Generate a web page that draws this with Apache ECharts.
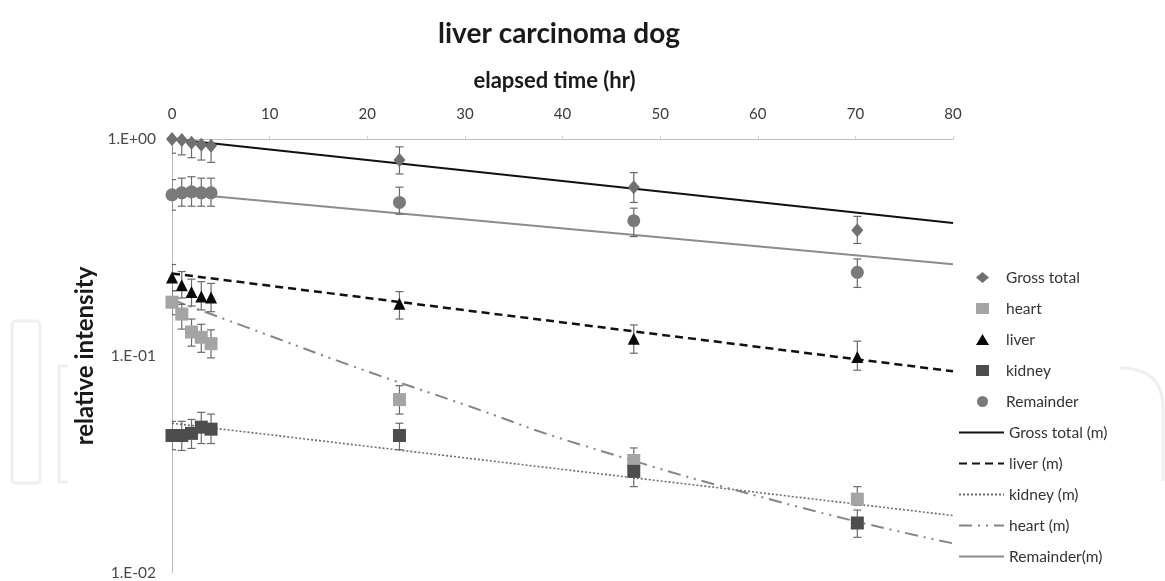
<!DOCTYPE html>
<html>
<head>
<meta charset="utf-8">
<script src="https://cdn.jsdelivr.net/npm/echarts@6/dist/echarts.min.js"></script>
<style>
  html, body { margin: 0; padding: 0; background: #fff; }
  #chart { width: 1165px; height: 581px; }
</style>
</head>
<body>
<div id="chart"></div>
<script>
// ---- data ----
const timeHours = [0, 1, 2, 3, 4, 23.3, 47.3, 70.2];

const grossTotal     = [1.00, 0.99, 0.96, 0.94, 0.93, 0.80, 0.60, 0.38];
const grossTotalLow  = [0.86, 0.845, 0.82, 0.80, 0.78, 0.69, 0.51, 0.33];
const grossTotalHigh = [1.14, 1.15, 1.12, 1.10, 1.10, 0.92, 0.70, 0.44];

const heart     = [0.177, 0.156, 0.129, 0.122, 0.114, 0.063, 0.033, 0.0219];
const heartLow  = [0.155, 0.133, 0.111, 0.104, 0.098, 0.054, 0.0285, 0.0205];
const heartHigh = [0.200, 0.173, 0.148, 0.140, 0.132, 0.073, 0.0377, 0.025];

const liver     = [0.230, 0.212, 0.197, 0.188, 0.186, 0.174, 0.120, 0.099];
const liverLow  = [0.200, 0.185, 0.170, 0.163, 0.160, 0.148, 0.103, 0.086];
const liverHigh = [0.264, 0.245, 0.226, 0.220, 0.216, 0.198, 0.139, 0.117];

const kidney     = [0.043, 0.043, 0.044, 0.047, 0.046, 0.043, 0.0294, 0.0170];
const kidneyLow  = [0.037, 0.0367, 0.0375, 0.0395, 0.0395, 0.037, 0.025, 0.0146];
const kidneyHigh = [0.050, 0.050, 0.051, 0.055, 0.054, 0.049, 0.0335, 0.0195];

const remainder     = [0.553, 0.565, 0.571, 0.565, 0.565, 0.51, 0.42, 0.243];
const remainderLow  = [0.47, 0.49, 0.49, 0.49, 0.49, 0.45, 0.355, 0.207];
const remainderHigh = [0.65, 0.66, 0.67, 0.66, 0.66, 0.60, 0.48, 0.28];

// model (fitted) curves
const modelTime      = [0, 80];
const grossModel     = [1.0, 0.41];
const liverModel     = [0.24, 0.085];
const kidneyModel    = [0.049, 0.0184];
const remainderModel = [0.567, 0.265];
const heartModelTime = [0, 10, 19.3, 30, 41.8, 64.3, 80];
const heartModel     = [0.182, 0.124, 0.0872, 0.0596, 0.0391, 0.0201, 0.0137];

const xTicks = [0, 10, 20, 30, 40, 50, 60, 70, 80];
const yTickLabels = { '1': '1.E+00', '0.1': '1.E-01', '0.01': '1.E-02' };

const markerNames = ['Gross total', 'heart', 'liver', 'kidney', 'Remainder'];
const modelNames = ['Gross total (m)', 'liver (m)', 'kidney (m)', 'heart (m)', 'Remainder(m)'];

// ---- build ----
const FONT = 'Lato, "Open Sans", sans-serif';
const pairs = (xs, ys) => xs.map((x, i) => [x, ys[i]]);
const triples = (xs, lo, hi) => xs.map((x, i) => [x, lo[i], hi[i]]);

function errorSeries(lo, hi) {
  return {
    type: 'custom',
    silent: true,
    clip: true,
    z: 3,
    data: triples(timeHours, lo, hi),
    encode: { x: 0, y: [1, 2] },
    renderItem: function (params, api) {
      const x = api.value(0);
      const top = api.coord([x, api.value(2)]);
      const bot = api.coord([x, api.value(1)]);
      const w = 4;
      const st = { stroke: '#6a6a6a', lineWidth: 1.2 };
      return {
        type: 'group',
        children: [
          { type: 'line', shape: { x1: top[0], y1: top[1], x2: bot[0], y2: bot[1] }, style: st },
          { type: 'line', shape: { x1: top[0] - w, y1: top[1], x2: top[0] + w, y2: top[1] }, style: st },
          { type: 'line', shape: { x1: bot[0] - w, y1: bot[1], x2: bot[0] + w, y2: bot[1] }, style: st }
        ]
      };
    }
  };
}

function markerSeries(name, values, symbol, size, color) {
  return {
    name: name, type: 'scatter', symbol: symbol, symbolSize: size, z: 4,
    itemStyle: { color: color, opacity: 1 },
    data: pairs(timeHours, values)
  };
}

function modelSeries(name, xs, ys, color, width, type, smooth) {
  return {
    name: name, type: 'line', showSymbol: false, symbol: 'none', z: 2,
    smooth: smooth || false,
    lineStyle: { color: color, width: width, type: type, cap: 'butt' },
    itemStyle: { color: color },
    data: pairs(xs, ys)
  };
}

const chart = echarts.init(document.getElementById('chart'), null, { renderer: 'canvas' });

const wm = { stroke: '#efefef', lineWidth: 3, fill: null };

const option = {
  animation: false,
  backgroundColor: '#ffffff',
  title: {
    text: 'liver carcinoma dog',
    left: 554, top: 15, textAlign: 'center',
    textStyle: { fontFamily: FONT, fontSize: 28, fontWeight: 'bold', color: '#1a1a1a' }
  },
  graphic: [
    { type: 'rect', z: -10, silent: true, shape: { x: 12, y: 321, width: 28, height: 162, r: 4 }, style: wm },
    { type: 'polyline', z: -10, silent: true, shape: { points: [[68, 366], [59, 366], [59, 482], [68, 482]] }, style: wm },
    { type: 'bezierCurve', z: -10, silent: true,
      shape: { x1: 1120, y1: 368, x2: 1163, y2: 408, cpx1: 1163, cpy1: 368 }, style: wm },
    { type: 'line', z: -10, silent: true, shape: { x1: 1163, y1: 408, x2: 1163, y2: 481 }, style: wm }
  ],
  grid: { left: 172, right: 212, top: 139, bottom: 6, containLabel: false },
  xAxis: {
    type: 'value', position: 'top', min: 0, max: 80, interval: 10,
    name: 'elapsed time (hr)', nameLocation: 'middle', nameGap: 47,
    nameTextStyle: { fontFamily: FONT, fontSize: 22, fontWeight: 'bold', color: '#1a1a1a', padding: [0, 16, 0, 0] },
    axisLine: { show: true, lineStyle: { color: '#bdbdbd', width: 1 } },
    axisTick: { show: true, length: 3, lineStyle: { color: '#d0d0d0' } },
    splitLine: { show: false },
    axisLabel: { fontFamily: FONT, fontSize: 15, color: '#3a3a3a', margin: 17,
      formatter: v => xTicks.indexOf(v) >= 0 ? String(v) : '' }
  },
  yAxis: {
    type: 'log', logBase: 10, min: 0.01, max: 1,
    name: 'relative intensity', nameLocation: 'middle', nameGap: 75, nameRotate: 90,
    nameMoveOverlap: false,
    nameTextStyle: { fontFamily: FONT, fontSize: 24, fontWeight: 'bold', color: '#1a1a1a' },
    axisLine: { show: true, lineStyle: { color: '#bdbdbd', width: 1 } },
    axisTick: { show: false },
    splitLine: { show: false },
    axisLabel: { fontFamily: FONT, fontSize: 15.5, color: '#4a4a4a', margin: 16,
      formatter: v => yTickLabels[String(+v.toPrecision(3))] || '' }
  },
  legend: [
    {
      orient: 'vertical', left: 971, top: 264,
      itemWidth: 13, itemHeight: 11, itemGap: 14,
      textStyle: { fontFamily: FONT, fontSize: 15.5, color: '#333', lineHeight: 17, padding: [0, 0, 0, 12] },
      data: markerNames,
      selectedMode: false
    },
    {
      orient: 'vertical', left: 953, top: 419,
      itemWidth: 45, itemHeight: 11, itemGap: 14,
      itemStyle: { color: 'rgba(0,0,0,0)', borderColor: 'rgba(0,0,0,0)', borderWidth: 0 },
      textStyle: { fontFamily: FONT, fontSize: 15.5, color: '#333', lineHeight: 17 },
      data: modelNames,
      selectedMode: false
    }
  ],
  series: [
    modelSeries('Gross total (m)', modelTime, grossModel, '#111111', 2, 'solid'),
    modelSeries('liver (m)', modelTime, liverModel, '#111111', 2.5, [8, 5]),
    modelSeries('kidney (m)', modelTime, kidneyModel, '#6e6e6e', 1.6, [2, 2]),
    modelSeries('heart (m)', heartModelTime, heartModel, '#858585', 2, [13, 6, 2, 6, 2, 6], true),
    modelSeries('Remainder(m)', modelTime, remainderModel, '#8c8c8c', 2, 'solid'),

    errorSeries(grossTotalLow, grossTotalHigh),
    errorSeries(heartLow, heartHigh),
    errorSeries(liverLow, liverHigh),
    errorSeries(kidneyLow, kidneyHigh),
    errorSeries(remainderLow, remainderHigh),

    markerSeries('Gross total', grossTotal, 'diamond', [12, 14], '#707070'),
    markerSeries('heart', heart, 'rect', 13, '#a4a4a4'),
    markerSeries('liver', liver, 'triangle', 12, '#0a0a0a'),
    markerSeries('kidney', kidney, 'rect', 13, '#4d4d4d'),
    markerSeries('Remainder', remainder, 'circle', 13, '#7a7a7a')
  ]
};

chart.setOption(option);
</script>
</body>
</html>
